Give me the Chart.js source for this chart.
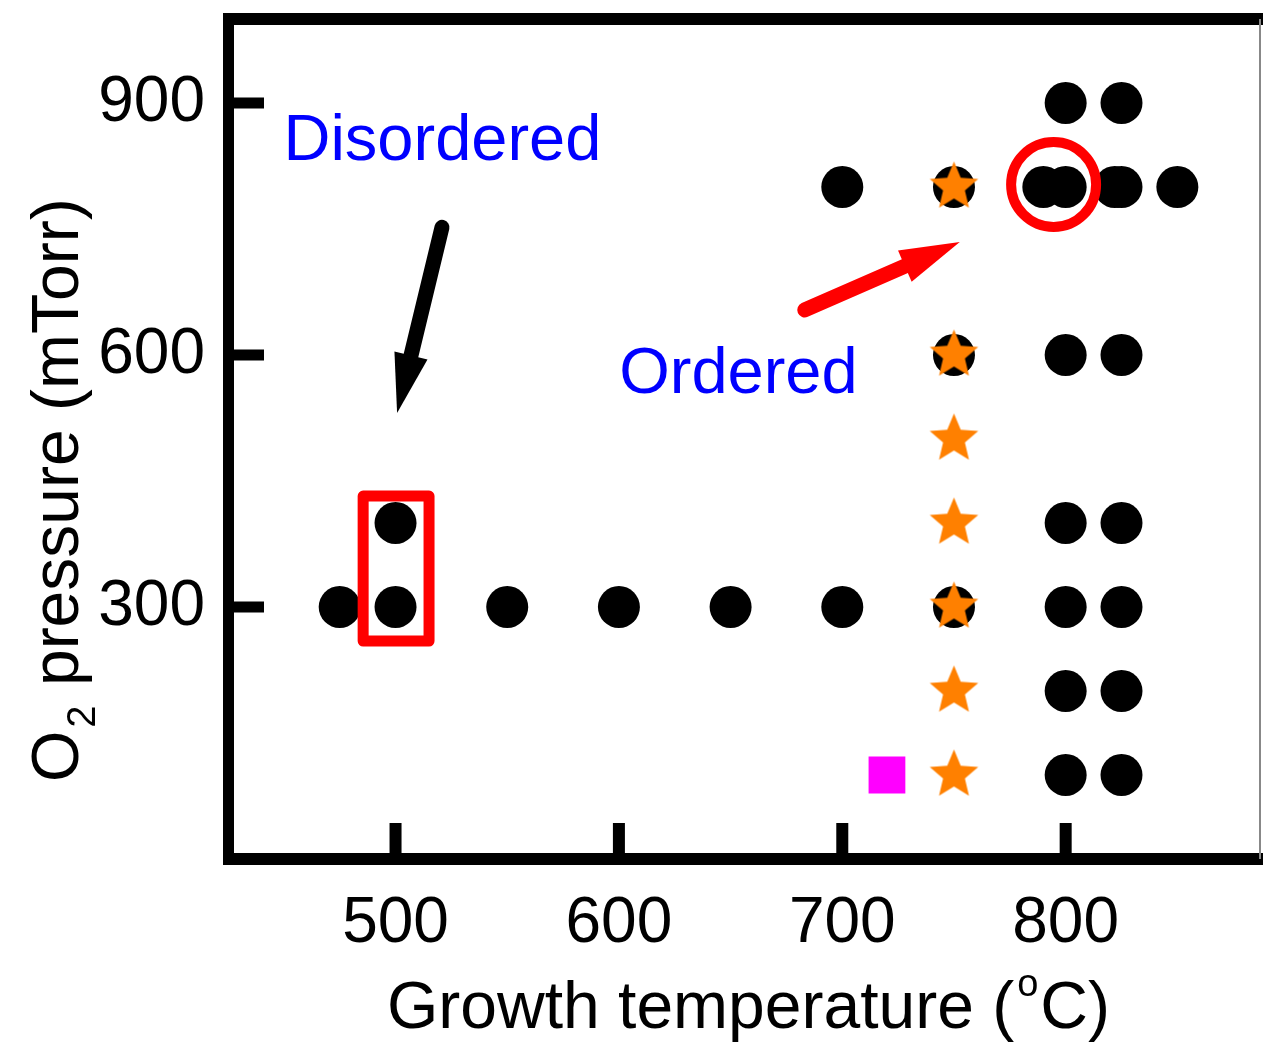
<!DOCTYPE html>
<html><head><meta charset="utf-8">
<script src="https://cdn.jsdelivr.net/npm/chart.js@4.4.0/dist/chart.umd.min.js"></script>
<style>html,body{margin:0;padding:0;background:#fff;}canvas{display:block;}</style>
</head><body>
<canvas id="c" width="1263" height="1044"></canvas>
<script>
// ---- data ----
const xTickValues = [500, 600, 700, 800];
const yTickValues = [300, 600, 900];

const circleTemps = [475, 500, 500, 550, 600, 650, 700, 700, 750, 750, 750, 790,
                     800, 800, 800, 800, 800, 800, 800, 822,
                     825, 825, 825, 825, 825, 825, 825, 850];
const circlePress = [300, 300, 400, 300, 300, 300, 300, 800, 800, 600, 300, 800,
                     900, 800, 600, 400, 300, 200, 100, 800,
                     900, 800, 600, 400, 300, 200, 100, 800];

const starTemps = [750, 750, 750, 750, 750, 750, 750];
const starPress = [800, 600, 500, 400, 300, 200, 100];

const squareTemps = [720];
const squarePress = [100];

const labelDisordered = 'Disordered';
const labelOrdered = 'Ordered';
const xTitleMain = 'Growth temperature (';
const xTitleSup = 'o';
const xTitleEnd = 'C)';
const yTitleMain = 'O';
const yTitleSub = '2';
const yTitleEnd = ' pressure (mTorr)';

// annotation anchors in data units
const disorderedPos = [521, 832];
const orderedPos = [653.5, 555];
const blackArrow = [[520.8, 752], [500.7, 531]];
const redArrow = [[683.2, 653.6], [752.6, 734.5]];
const redCircleCenter = [794.6, 803];
const redRect = [[485.5, 432], [515, 259.5]];

const FONT = '"Liberation Sans", Arial, Helvetica, sans-serif';

function toPts(xs, ys) { return xs.map((x, i) => ({ x: x, y: ys[i] })); }

function makeStar(R, ratio, color) {
  const size = Math.ceil(2 * R + 4);
  const cv = document.createElement('canvas');
  cv.width = size; cv.height = size;
  const g = cv.getContext('2d');
  const c = size / 2;
  g.beginPath();
  for (let i = 0; i < 10; i++) {
    const r = i % 2 === 0 ? R : R * ratio;
    const a = -Math.PI / 2 + i * Math.PI / 5;
    const px = c + r * Math.cos(a), py = c + r * Math.sin(a);
    if (i === 0) g.moveTo(px, py); else g.lineTo(px, py);
  }
  g.closePath();
  g.fillStyle = color;
  g.fill();
  return cv;
}
const starImg = makeStar(25.5, 0.45, '#ff8000');

function drawArrow(ctx, x0, y0, x1, y1, w, headLen, headHalf, color) {
  const dx = x1 - x0, dy = y1 - y0;
  const L = Math.hypot(dx, dy);
  const ux = dx / L, uy = dy / L;
  const bx = x1 - ux * headLen, by = y1 - uy * headLen;
  ctx.save();
  ctx.strokeStyle = color; ctx.fillStyle = color;
  ctx.lineWidth = w; ctx.lineCap = 'round';
  ctx.beginPath(); ctx.moveTo(x0, y0); ctx.lineTo(bx + ux * 2, by + uy * 2); ctx.stroke();
  ctx.beginPath();
  ctx.moveTo(x1, y1);
  ctx.lineTo(bx - uy * headHalf, by + ux * headHalf);
  ctx.lineTo(bx + uy * headHalf, by - ux * headHalf);
  ctx.closePath(); ctx.fill();
  ctx.restore();
}

function zeroPad(s) { s.paddingLeft = 0; s.paddingRight = 0; s.paddingTop = 0; s.paddingBottom = 0; }

const decorPlugin = {
  id: 'decor',
  afterDraw(chart) {
    const ctx = chart.ctx;
    const xs = chart.scales.x, ys = chart.scales.y;
    const ca = chart.chartArea;
    const X = v => xs.getPixelForValue(v), Y = v => ys.getPixelForValue(v);
    ctx.save();
    // frame
    ctx.fillStyle = '#000';
    ctx.fillRect(ca.left - 5, ca.top - 6, chart.width - (ca.left - 5), 12);   // top
    ctx.fillRect(ca.left - 5, ca.top - 6, 11, ca.bottom - ca.top + 12);       // left
    ctx.fillRect(ca.left - 5, ca.bottom - 6, chart.width - (ca.left - 5), 12); // bottom
    ctx.fillStyle = '#888';
    ctx.fillRect(ca.right - 1, ca.top, 2, ca.bottom - ca.top);                 // right
    // inward ticks
    ctx.fillStyle = '#000';
    xTickValues.forEach(v => { const p = X(v); ctx.fillRect(p - 6, ca.bottom - 36, 12, 36); });
    yTickValues.forEach(v => { const p = Y(v); ctx.fillRect(ca.left, p - 5.5, 36, 11); });

    // annotations
    ctx.strokeStyle = '#ff0000';
    ctx.lineWidth = 11; ctx.lineJoin = 'round';
    ctx.strokeRect(X(redRect[0][0]), Y(redRect[0][1]),
                   X(redRect[1][0]) - X(redRect[0][0]), Y(redRect[1][1]) - Y(redRect[0][1]));
    ctx.lineWidth = 10;
    ctx.beginPath();
    ctx.arc(X(redCircleCenter[0]), Y(redCircleCenter[1]), 42.5, 0, Math.PI * 2);
    ctx.stroke();
    drawArrow(ctx, X(blackArrow[0][0]), Y(blackArrow[0][1]), X(blackArrow[1][0]), Y(blackArrow[1][1]), 15, 59, 17, '#000');
    drawArrow(ctx, X(redArrow[0][0]), Y(redArrow[0][1]), X(redArrow[1][0]), Y(redArrow[1][1]), 15, 60, 17, '#ff0000');

    ctx.fillStyle = '#0000ff';
    ctx.font = '65px ' + FONT;
    ctx.textAlign = 'center'; ctx.textBaseline = 'alphabetic';
    ctx.fillText(labelDisordered, X(disorderedPos[0]), Y(disorderedPos[1]));
    ctx.fillText(labelOrdered, X(orderedPos[0]), Y(orderedPos[1]));

    // x title
    ctx.fillStyle = '#000';
    ctx.textAlign = 'left';
    ctx.font = '66px ' + FONT;
    let x0 = 387, base = 1028;
    ctx.fillText(xTitleMain, x0, base);
    let w1 = ctx.measureText(xTitleMain).width;
    ctx.font = '38px ' + FONT;
    ctx.fillText(xTitleSup, x0 + w1 + 3, base - 32);
    let w2 = ctx.measureText(xTitleSup).width;
    ctx.font = '66px ' + FONT;
    ctx.fillText(xTitleEnd, x0 + w1 + w2 + 5, base);

    // y title (rotated)
    ctx.save();
    ctx.translate(78, 782);
    ctx.rotate(-Math.PI / 2);
    ctx.font = '66px ' + FONT;
    ctx.fillText(yTitleMain, 0, 0);
    let o = ctx.measureText(yTitleMain).width;
    ctx.font = '40px ' + FONT;
    ctx.fillText(yTitleSub, o + 3, 17);
    let s = ctx.measureText(yTitleSub).width;
    ctx.font = '66px ' + FONT;
    ctx.fillText(yTitleEnd, o + s + 4, 0);
    ctx.restore();

    ctx.restore();
  }
};

new Chart(document.getElementById('c'), {
  type: 'scatter',
  data: {
    datasets: [
      { label: 'square', data: toPts(squareTemps, squarePress), order: 0,
        pointStyle: 'rect', pointRadius: 26, backgroundColor: '#ff00ff', borderWidth: 0 },
      { label: 'stars', data: toPts(starTemps, starPress), order: 1,
        pointStyle: starImg, pointRadius: 25 },
      { label: 'circles', data: toPts(circleTemps, circlePress), order: 2,
        pointStyle: 'circle', pointRadius: 21, backgroundColor: '#000', borderWidth: 0 }
    ]
  },
  options: {
    responsive: false, animation: false, events: [],
    layout: { autoPadding: false, padding: { top: 19, right: 3, left: 0, bottom: 0 } },
    plugins: { legend: { display: false }, tooltip: { enabled: false } },
    scales: {
      x: {
        type: 'linear', min: 425, max: 887,
        afterBuildTicks: s => { s.ticks = xTickValues.map(v => ({ value: v })); },
        afterFit: s => { s.height = 185; zeroPad(s); },
        grid: { display: false, drawTicks: false }, border: { display: false },
        ticks: { font: { family: FONT, size: 64 }, color: '#000', padding: 27, maxRotation: 0, autoSkip: false }
      },
      y: {
        type: 'linear', min: 0, max: 1000,
        afterBuildTicks: s => { s.ticks = yTickValues.map(v => ({ value: v })); },
        afterFit: s => { s.width = 228; zeroPad(s); },
        grid: { display: false, drawTicks: false }, border: { display: false },
        ticks: { font: { family: FONT, size: 64 }, color: '#000', padding: 23, autoSkip: false }
      }
    }
  },
  plugins: [decorPlugin]
});
</script>
</body></html>
